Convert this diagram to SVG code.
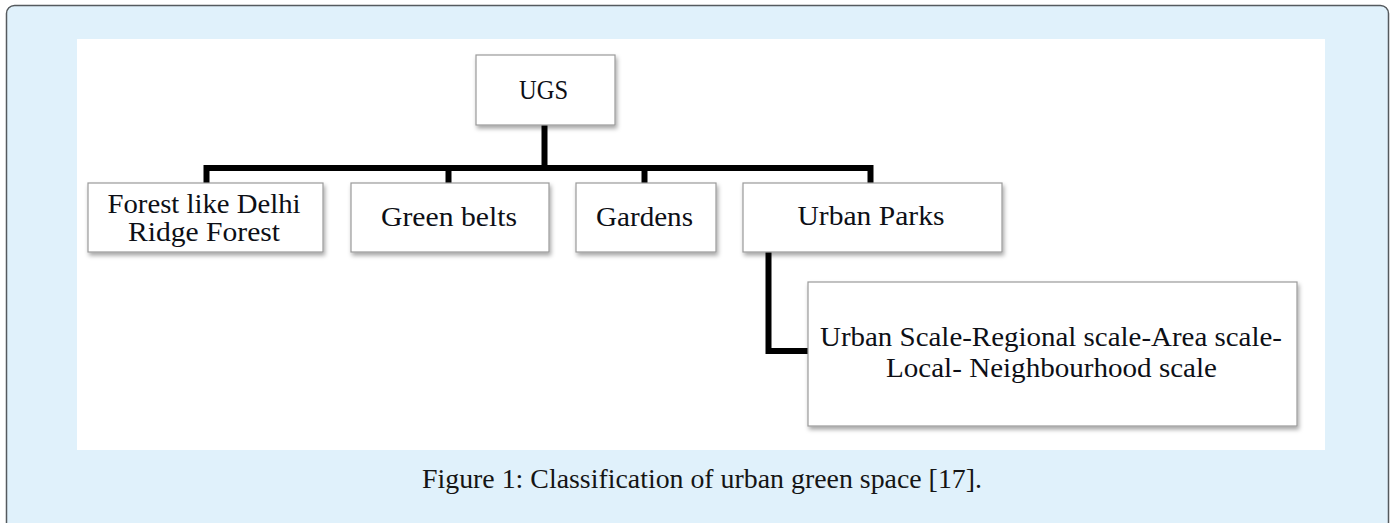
<svg xmlns="http://www.w3.org/2000/svg" width="1390" height="523" viewBox="0 0 1390 523">
  <style>
    .box { fill: #ffffff; stroke: #9a9a9a; stroke-width: 1.2; filter: url(#sh); }
    .lbl { font-family: "Liberation Serif", "Times New Roman", serif; font-size: 28px; fill: #0d0f16; text-anchor: middle; }
    .cap { font-family: "Liberation Serif", "Times New Roman", serif; font-size: 27px; fill: #151515; text-anchor: middle; }
    .conn { fill: none; stroke: #000; stroke-width: 6; stroke-linejoin: miter; stroke-linecap: butt; }
  </style>
  <defs>
    <filter id="sh" x="-10%" y="-20%" width="130%" height="150%">
      <feDropShadow dx="1.5" dy="3" stdDeviation="2" flood-color="#000" flood-opacity="0.35"/>
    </filter>
  </defs>

  <rect x="6.5" y="5.5" width="1382" height="560" rx="8" ry="8" fill="#e0f1fb" stroke="#555a5e" stroke-width="1.5"/>
  <rect x="77" y="39" width="1248" height="411" fill="#ffffff"/>

  <g id="connectors">
    <path class="conn" d="M544.5 125 V168"/>
    <path class="conn" d="M206.5 183 V168 H870.5 V183"/>
    <path class="conn" d="M448.5 168 V183"/>
    <path class="conn" d="M644.5 168 V183"/>
    <path class="conn" d="M768.5 252 V351 H808"/>
  </g>

  <g id="ugs">
    <rect class="box" x="476" y="55" width="139" height="70"/>
    <text class="lbl" x="543.5" y="99.3" textLength="49" lengthAdjust="spacingAndGlyphs">UGS</text>
  </g>

  <g id="forest">
    <rect class="box" x="88" y="183" width="235" height="69"/>
    <text class="lbl" x="204" y="212.7" textLength="193" lengthAdjust="spacingAndGlyphs">Forest like Delhi</text>
    <text class="lbl" x="204" y="240.7" textLength="152" lengthAdjust="spacingAndGlyphs">Ridge Forest</text>
  </g>

  <g id="green-belts">
    <rect class="box" x="351" y="183" width="198" height="69"/>
    <text class="lbl" x="449" y="225.7" textLength="136" lengthAdjust="spacingAndGlyphs">Green belts</text>
  </g>

  <g id="gardens">
    <rect class="box" x="576" y="183" width="140" height="69"/>
    <text class="lbl" x="644.5" y="225.7" textLength="97" lengthAdjust="spacingAndGlyphs">Gardens</text>
  </g>

  <g id="urban-parks">
    <rect class="box" x="743" y="183" width="259" height="69"/>
    <text class="lbl" x="871" y="225.3" textLength="147" lengthAdjust="spacingAndGlyphs">Urban Parks</text>
  </g>

  <g id="scales">
    <rect class="box" x="808" y="282" width="489" height="144"/>
    <text class="lbl" x="1051" y="346" textLength="462" lengthAdjust="spacingAndGlyphs">Urban Scale-Regional scale-Area scale-</text>
    <text class="lbl" x="1051.5" y="377" textLength="331" lengthAdjust="spacingAndGlyphs">Local- Neighbourhood scale</text>
  </g>

  <text class="cap" x="702" y="488.3" textLength="560" lengthAdjust="spacingAndGlyphs">Figure 1: Classification of urban green space [17].</text>
</svg>
